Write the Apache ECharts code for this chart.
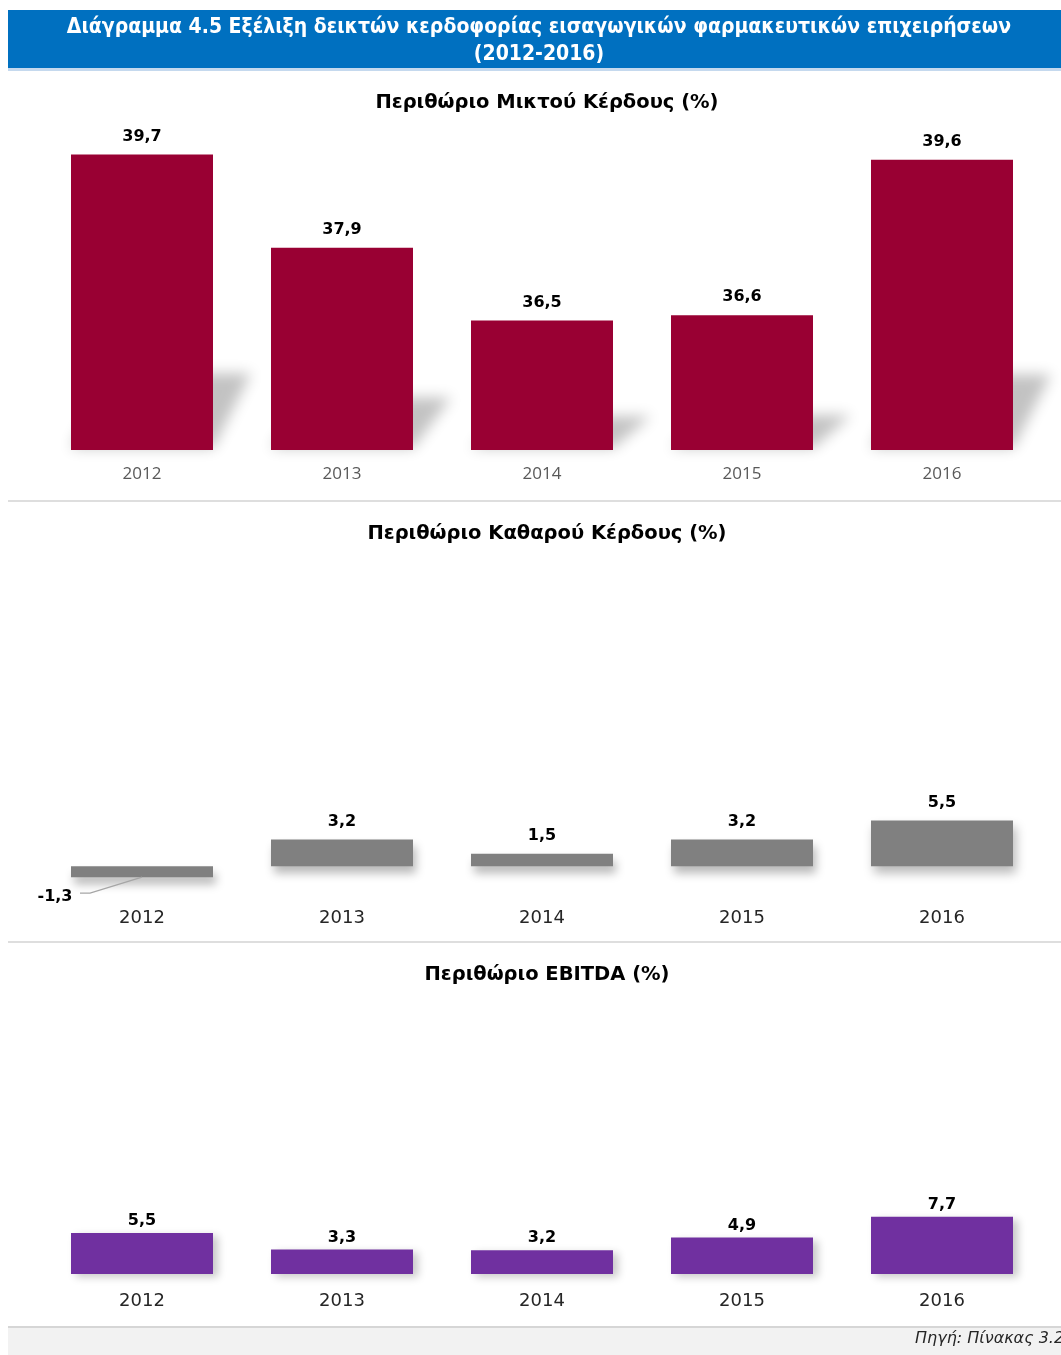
<!DOCTYPE html>
<html>
<head>
<meta charset="utf-8">
<title>Διάγραμμα 4.5</title>
<script src="https://cdn.jsdelivr.net/npm/echarts@6/dist/echarts.min.js"></script>
<style>
  html, body { margin: 0; padding: 0; background: #fff; }
  #main { width: 1061px; height: 1355px; }
</style>
</head>
<body>
<div id="main"></div>
<script>
// data
const years = ["2012", "2013", "2014", "2015", "2016"];
const grossMargin = [39.7, 37.9, 36.5, 36.6, 39.6];
const netMargin = [-1.3, 3.2, 1.5, 3.2, 5.5];
const ebitdaMargin = [5.5, 3.3, 3.2, 4.9, 7.7];

const mainTitle = "Διάγραμμα 4.5 Εξέλιξη δεικτών κερδοφορίας εισαγωγικών φαρμακευτικών επιχειρήσεων\n(2012-2016)";
const chartTitles = ["Περιθώριο Μικτού Κέρδους (%)", "Περιθώριο Καθαρού Κέρδους (%)", "Περιθώριο EBITDA (%)"];
const sourceText = "Πηγή: Πίνακας 3.23";

const chart = echarts.init(document.getElementById("main"));

const fmt = function (p) {
  return String(p.value).replace(".", ",");
};
const grossMin = 34;
const OFF = 3000; // draw shape off-canvas, keep only its blurred shadow

const valueLabel = {
  show: true,
  position: "top",
  distance: 10,
  color: "#000",
  fontFamily: "DejaVu Sans",
  fontWeight: "bold",
  fontSize: 16,
  formatter: fmt,
};

function catAxis(idx, color, size, family, margin) {
  return {
    type: "category",
    gridIndex: idx,
    data: years,
    axisTick: { show: false },
    axisLine: { show: false, onZero: false },
    axisLabel: { color: color, fontSize: size, fontFamily: family, margin: margin },
  };
}
function valAxis(idx, min, max) {
  return {
    type: "value",
    gridIndex: idx,
    min: min,
    max: max,
    show: false,
    splitLine: { show: false },
  };
}

const option = {
  animation: false,
  backgroundColor: "#fff",
  title: [
    { text: chartTitles[0], top: 88 },
    { text: chartTitles[1], top: 519 },
    { text: chartTitles[2], top: 960 },
  ].map(function (t) {
    t.left = 542;
    t.textAlign = "center";
    t.textStyle = { fontFamily: "DejaVu Sans", fontWeight: "bold", fontSize: 19.5, color: "#000" };
    return t;
  }),
  grid: [
    { left: 42, width: 1000, top: 139, height: 311 },
    { left: 42, width: 1000, top: 566, height: 317 },
    { left: 42, width: 1000, top: 991, height: 283 },
  ],
  xAxis: [
    catAxis(0, "#595959", 17, "Open Sans", 16),
    catAxis(1, "#262626", 18, "DejaVu Sans", 26),
    catAxis(2, "#262626", 18, "DejaVu Sans", 18),
  ],
  yAxis: [valAxis(0, grossMin, 40), valAxis(1, -2, 36), valAxis(2, 0, 38)],
  graphic: [
    // banner
    { type: "rect", left: 8, top: 10, shape: { width: 1053, height: 58 }, style: { fill: "#0070C0" } },
    { type: "rect", left: 8, top: 68, shape: { width: 1053, height: 3 }, style: { fill: "#c5d9ee" } },
    {
      type: "text",
      x: 539,
      y: 14,
      style: {
        text: mainTitle,
        fill: "#fff",
        font: "bold 21px 'DejaVu Sans Condensed', 'DejaVu Sans'",
        align: "center",
        verticalAlign: "top",
        lineHeight: 27,
      },
    },
    // separators
    { type: "rect", left: 8, top: 500, shape: { width: 1053, height: 2 }, style: { fill: "#dedede" } },
    { type: "rect", left: 8, top: 941, shape: { width: 1053, height: 2 }, style: { fill: "#dedede" } },
    // footer
    { type: "rect", left: 8, top: 1326, shape: { width: 1053, height: 29 }, style: { fill: "#f2f2f2" } },
    { type: "rect", left: 8, top: 1326, shape: { width: 1053, height: 2 }, style: { fill: "#d6d6d6" } },
    {
      type: "text",
      x: 915,
      y: 1331,
      style: { text: sourceText, fill: "#262626", font: "italic 16px 'DejaVu Sans'" },
    },
  ],
  series: [
    {
      // soft perspective shadow behind the gross margin bars
      type: "custom",
      xAxisIndex: 0,
      yAxisIndex: 0,
      z: 1,
      silent: true,
      data: grossMargin.map(function (v, i) { return [i, v]; }),
      renderItem: function (params, api) {
        const top = api.coord([api.value(0), api.value(1)]);
        const base = api.coord([api.value(0), grossMin]);
        const w = api.size([1, 0])[0] * 0.71;
        const L = top[0] - w / 2, R = top[0] + w / 2;
        const h = (base[1] - top[1]) * 0.26;
        const dx = 38;
        return {
          type: "polygon",
          shape: {
            points: [
              [L + dx - OFF, base[1] - h],
              [R + dx - OFF, base[1] - h],
              [R - OFF, base[1] - 2],
              [L - OFF, base[1] - 2],
            ],
          },
          style: {
            fill: "#000",
            shadowBlur: 14,
            shadowOffsetX: OFF,
            shadowColor: "rgba(0,0,0,0.24)",
          },
        };
      },
    },
    {
      type: "bar",
      xAxisIndex: 0,
      yAxisIndex: 0,
      z: 2,
      barWidth: "71%",
      data: grossMargin,
      itemStyle: { color: "#990033" },
      label: valueLabel,
    },
    {
      type: "bar",
      xAxisIndex: 1,
      yAxisIndex: 1,
      z: 2,
      barWidth: "71%",
      data: netMargin.map(function (v) {
        return v < 0 ? { value: v, label: { position: "bottom", distance: 4 } } : v;
      }),
      itemStyle: {
        color: "#808080",
        shadowBlur: 10,
        shadowOffsetY: 7,
        shadowOffsetX: 3,
        shadowColor: "rgba(0,0,0,0.28)",
      },
      label: valueLabel,
      labelLayout: function (p) {
        return p.dataIndex === 0 ? { dx: -87, dy: 8 } : {};
      },
    },
    {
      // leader line for the negative net margin label
      type: "custom",
      xAxisIndex: 1,
      yAxisIndex: 1,
      z: 3,
      silent: true,
      data: netMargin.map(function (v, i) { return [i, v]; }),
      renderItem: function (params, api) {
        if (api.value(1) >= 0) return null;
        const p = api.coord([api.value(0), api.value(1)]);
        return {
          type: "polyline",
          shape: { points: [[p[0], p[1]], [p[0] - 52, p[1] + 16], [p[0] - 62, p[1] + 16]] },
          style: { stroke: "#a6a6a6", lineWidth: 1.3, fill: null },
        };
      },
    },
    {
      type: "bar",
      xAxisIndex: 2,
      yAxisIndex: 2,
      z: 2,
      barWidth: "71%",
      data: ebitdaMargin,
      itemStyle: {
        color: "#7030A0",
        shadowBlur: 8,
        shadowOffsetY: 3,
        shadowOffsetX: 5,
        shadowColor: "rgba(0,0,0,0.22)",
      },
      label: Object.assign({}, valueLabel, { distance: 4 }),
    },
  ],
};

chart.setOption(option);
</script>
</body>
</html>
